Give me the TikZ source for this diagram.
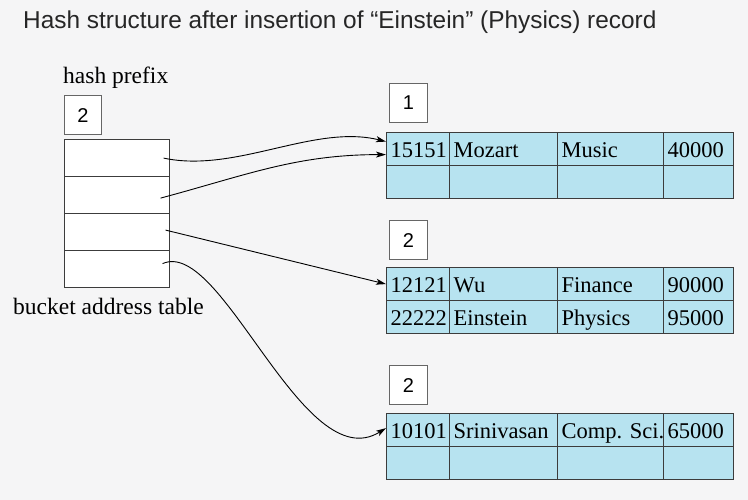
\documentclass[tikz,border=0pt]{standalone}
\usepackage{fontspec}
\setmainfont{Liberation Serif}
\setsansfont{Liberation Sans}
\usetikzlibrary{positioning,arrows.meta}
\definecolor{bucketblue}{RGB}{183,227,240}
\definecolor{pagegray}{RGB}{245,245,246}
\definecolor{linegray}{RGB}{60,60,60}

\begin{document}
\begin{tikzpicture}[x=1pt, y=1pt, >={Stealth[length=10pt,width=6pt,inset=2.5pt]},
    cell/.style={draw=linegray, line width=1.2pt, fill=bucketblue, minimum height=33pt, anchor=north west, inner sep=0pt},
    cellText/.style={anchor=west, inner xsep=4.5pt, inner ysep=0pt, text height=16pt, text depth=0pt, font=\fontsize{22.5}{24}\selectfont},
    slot/.style={draw=linegray, line width=1.2pt, fill=white, minimum width=105pt, minimum height=37pt, anchor=north west, inner sep=0pt},
    numBox/.style={draw=gray!80!black, fill=white, line width=0.8pt, minimum width=38pt, minimum height=39pt, anchor=south west, inner sep=0pt, font=\sffamily\fontsize{20}{22}\selectfont},
    plainText/.style={anchor=base west, inner sep=0pt, font=\fontsize{23.5}{25}\selectfont},
    pointer/.style={->, line width=0.9pt}]
      \useasboundingbox (0,0) rectangle (748,-500);
      \fill[pagegray] (0,0) rectangle (748,-500);

      % Title
      \node[anchor=base west, inner sep=0pt, text=black!85, font=\sffamily\fontsize{24.4}{26}\selectfont] (title) at (23,-29)
        {Hash structure after insertion of “Einstein” (Physics) record};

      % Bucket address table
      \foreach \i in {1,...,4} {
          \node[slot] (slot\i) at (64,{-139-37*(\i-1)}) {};
        }
      \node[numBox, minimum width=37pt] (prefix) at ([yshift=4pt]slot1.north west) {2};
      \node[plainText] (prefixlabel) at (63,-84) {hash prefix};
      \node[plainText] (tablelabel) at (13,-315) {bucket address table};

      % Bucket 1
      \begin{scope}[shift={(386,-132)}]
        \foreach \x/\w/\t [count=\i] in {0/63/15151, 63/108/Mozart, 171/106/Music, 277/70/40000} {
            \node[cell, minimum width=\w pt] (b1-\i) at (\x,0) {};
            \node[cellText] at (b1-\i.west) {\t};
            \node[cell, minimum width=\w pt] (b1r-\i) at (\x,-33) {};
          }
        \node[numBox] (n1) at ([xshift=3pt, yshift=9pt]b1-1.north west) {1};
      \end{scope}

      % Bucket 2
      \begin{scope}[shift={(386,-267)}]
        \foreach \x/\w/\t/\u [count=\i] in {0/63/12121/22222, 63/108/Wu/Einstein, 171/106/Finance/Physics, 277/70/90000/95000} {
            \node[cell, minimum width=\w pt] (b2-\i) at (\x,0) {};
            \node[cellText] at (b2-\i.west) {\t};
            \node[cell, minimum width=\w pt] (b2r-\i) at (\x,-33) {};
            \node[cellText] at (b2r-\i.west) {\u};
          }
        \node[numBox] (n2) at ([xshift=3pt, yshift=7pt]b2-1.north west) {2};
      \end{scope}

      % Bucket 3
      \begin{scope}[shift={(386,-413)}]
        \foreach \x/\w/\t [count=\i] in {0/63/10101, 63/108/Srinivasan, 171/106/Comp. Sci., 277/70/65000} {
            \node[cell, minimum width=\w pt] (b3-\i) at (\x,0) {};
            \node[cellText] at (b3-\i.west) {\t};
            \node[cell, minimum width=\w pt] (b3r-\i) at (\x,-33) {};
          }
        \node[numBox] (n3) at ([xshift=3pt, yshift=8pt]b3-1.north west) {2};
      \end{scope}

      % Pointers
      \coordinate (p1) at ([xshift=46.5pt]slot1.center);
      \coordinate (p2) at ([xshift=43.5pt, yshift=-3pt]slot2.center);
      \coordinate (p3) at ([xshift=48.5pt, yshift=2pt]slot3.center);
      \coordinate (p4) at ([xshift=45.5pt, yshift=5.5pt]slot4.center);
      \draw[pointer] (p1) to[out=-12, in=166, looseness=0.85] ([yshift=7.5pt]b1-1.west);
      \draw[pointer] (p2) to[out=15, in=180] ([yshift=-5.5pt]b1-1.west);
      \draw[pointer] (p3) -- (b2-1.west);
      \draw[pointer] (p4) to[out=24, in=212, out looseness=0.6, in looseness=0.9] ([yshift=2pt]b3-1.west);
    \end{tikzpicture}
\end{document}
